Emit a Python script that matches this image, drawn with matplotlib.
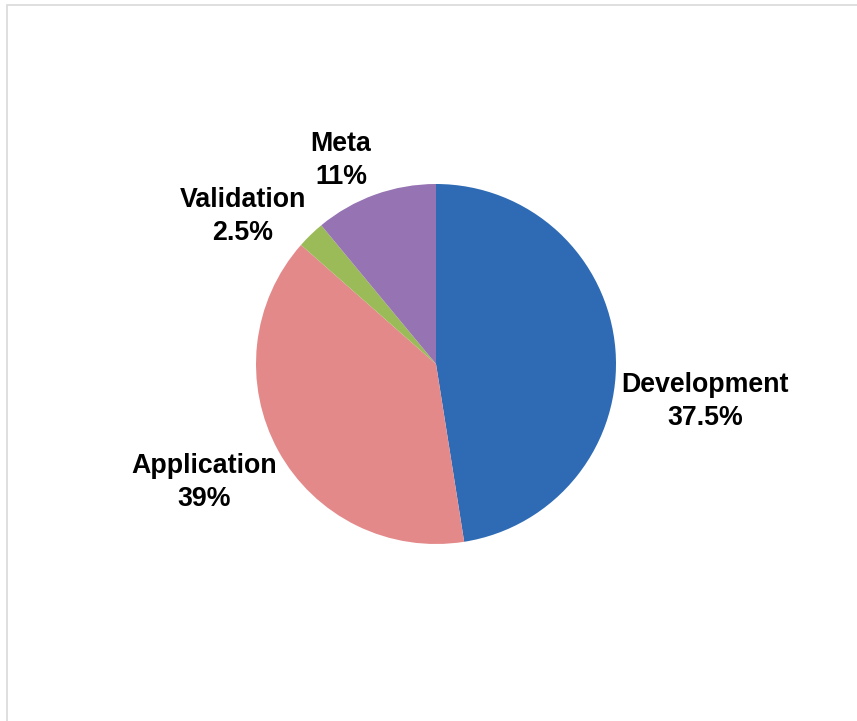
import matplotlib.pyplot as plt
from matplotlib.patches import Rectangle

# === Data ===
categories = ["Development", "Application", "Validation", "Meta"]
shares = [47.5, 39, 2.5, 11]                     # slice sizes as drawn
label_pcts = ["37.5%", "39%", "2.5%", "11%"]     # percentages as printed on the chart
colors = ["#2E6BB4", "#E4898A", "#9BBB59", "#9673B3"]

# label centres in pie-radius units
label_pos = [(1.494, -0.211), (-1.289, -0.656), (-1.072, 0.817), (-0.528, 1.133)]

W, H = 857, 721
cx, cy, R = 436, 364, 180

fig = plt.figure(figsize=(W / 100, H / 100), dpi=100)
ax = fig.add_axes([0, 0, 1, 1])

ax.pie(shares, colors=colors, startangle=90, counterclock=False,
       radius=1, center=(0, 0), wedgeprops=dict(linewidth=0))

for name, pct, (lx, ly) in zip(categories, label_pcts, label_pos):
    ax.text(lx, ly, f"{name}\n{pct}", ha="center", va="center",
            fontsize=19.3, fontweight="bold", family="Liberation Sans",
            linespacing=1.35, color="black")

ax.set_xlim(-cx / R, (W - cx) / R)
ax.set_ylim(-(H - cy) / R, cy / R)
ax.set_aspect("auto")
ax.axis("off")

# light frame (top and left edges visible)
fig.patches.append(Rectangle((7 / W, -0.1), 1.2, 1.1 - 5 / H, transform=fig.transFigure,
                             fill=False, edgecolor="#D9D9D9", linewidth=1.2))

fig.savefig("out.png", dpi=100)
